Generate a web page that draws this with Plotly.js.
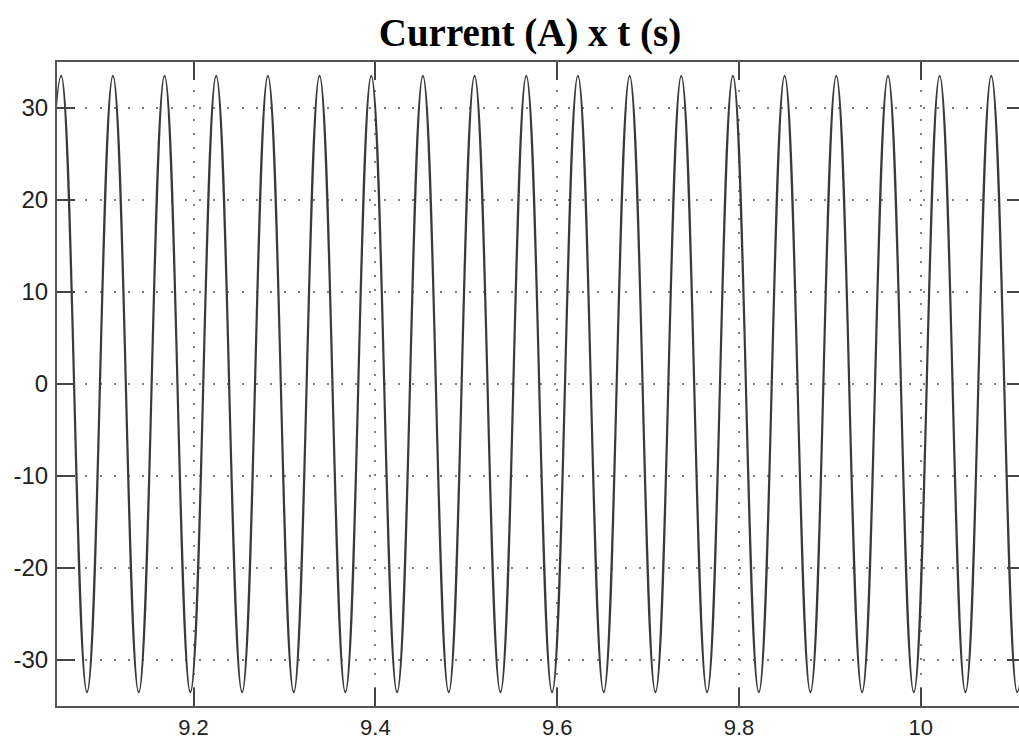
<!DOCTYPE html>
<html>
<head>
<meta charset="utf-8">
<script src="https://cdn.plot.ly/plotly-3.0.1.min.js"></script>
<style>
  html, body { margin: 0; padding: 0; background: #fff; overflow: hidden; }
  #chart { width: 1027px; height: 742px; }
</style>
</head>
<body>
<div id="chart"></div>
<script>
// Extremum times (s) of the current waveform (peaks and troughs alternate)
const timeS = [
  9.0260,
  9.0544, 9.0828, 9.1113, 9.1397, 9.1681, 9.1965, 9.2249, 9.2534, 9.2818, 9.3102,
  9.3386, 9.3670, 9.3955, 9.4239, 9.4523, 9.4807, 9.5091, 9.5376, 9.5660, 9.5944,
  9.6228, 9.6512, 9.6797, 9.7081, 9.7365, 9.7649, 9.7933, 9.8218, 9.8502, 9.8786,
  9.9070, 9.9354, 9.9639, 9.9923, 10.0207, 10.0491, 10.0775, 10.1060,
  10.1344
];
// Current (A) at those times
const currentA = [
  -33.5,
  33.5, -33.5, 33.5, -33.5, 33.5, -33.5, 33.5, -33.5, 33.5, -33.5,
  33.5, -33.5, 33.5, -33.5, 33.5, -33.5, 33.5, -33.5, 33.5, -33.5,
  33.5, -33.5, 33.5, -33.5, 33.5, -33.5, 33.5, -33.5, 33.5, -33.5,
  33.5, -33.5, 33.5, -33.5, 33.5, -33.5, 33.5, -33.5,
  33.5
];
const xTickVals = [9.2, 9.4, 9.6, 9.8, 10];
const xTickText = ['9.2', '9.4', '9.6', '9.8', '10'];
const yTickVals = [-30, -20, -10, 0, 10, 20, 30];
const yTickText = ['-30', '-20', '-10', '0', '10', '20', '30'];
const chartTitle = 'Current (A) x t (s)';

const axisCommon = {
  showline: true,
  linecolor: '#555',
  linewidth: 2,
  mirror: 'ticks',
  ticks: 'inside',
  ticklen: 18,
  tickwidth: 2,
  tickcolor: '#444',
  showgrid: true,
  gridcolor: '#808080',
  gridwidth: 2,
  griddash: '2px,12.2px',
  zeroline: false
};

const trace = {
  x: timeS,
  y: currentA,
  type: 'scatter',
  mode: 'lines',
  line: { color: '#3a3a3a', width: 2.2, shape: 'spline', smoothing: 1.2 },
  hoverinfo: 'skip'
};

const layout = {
  width: 1027,
  height: 742,
  margin: { l: 57, r: 2, t: 62, b: 36, pad: 0 },
  paper_bgcolor: '#fff',
  plot_bgcolor: '#fff',
  showlegend: false,
  title: {
    text: '<b>' + chartTitle + '</b>',
    font: { family: 'Liberation Serif, Times New Roman, serif', size: 39, color: '#000' },
    xref: 'container', yref: 'container',
    x: 530 / 1027, xanchor: 'center',
    y: 1 - 32 / 742, yanchor: 'middle'
  },
  xaxis: Object.assign({}, axisCommon, {
    range: [9.0498, 10.1146],
    tickmode: 'array',
    tickvals: xTickVals,
    ticktext: xTickText,
    tickfont: { family: 'Liberation Sans, Arial, sans-serif', size: 22, color: '#222' },
    ticklabelstandoff: 1
  }),
  yaxis: Object.assign({}, axisCommon, {
    range: [-35, 35],
    tickmode: 'array',
    tickvals: yTickVals,
    ticktext: yTickText,
    tickfont: { family: 'Liberation Sans, Arial, sans-serif', size: 24, color: '#222' },
    ticklabelstandoff: 2
  })
};

Plotly.newPlot('chart', [trace], layout, { displayModeBar: false, staticPlot: true });
</script>
</body>
</html>
